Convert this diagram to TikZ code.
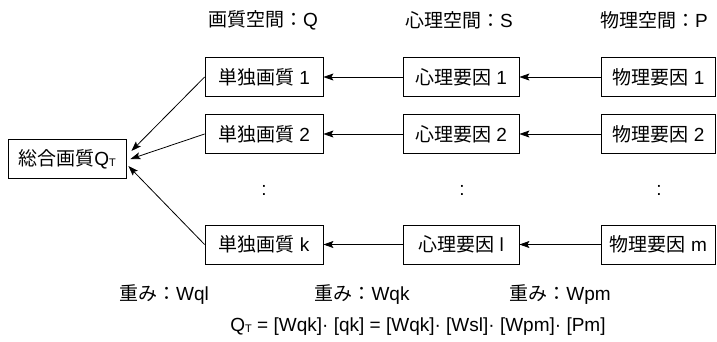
\documentclass[tikz,border=0pt]{standalone}
\usepackage{fontspec}
\setmainfont{Liberation Sans}
\newfontfamily\jp{Noto Sans CJK JP}
\usetikzlibrary{arrows.meta,calc}
\newcommand{\subT}{\raisebox{-0.1ex}{\fontsize{11}{12}\selectfont T}}
\begin{document}
\begin{tikzpicture}[x=1pt,y=-1pt,
  every node/.style={font=\fontsize{19}{21}\selectfont, inner sep=0pt},
  box/.style={draw, line width=0.8pt, minimum height=39pt},
  qbox/.style={box, minimum width=118pt},
  sbox/.style={box, minimum width=116pt},
  pbox/.style={box, minimum width=114pt},
  arr/.style={line width=0.8pt, -{Stealth[length=10pt,width=7pt,inset=2pt]}},
  lbl/.style={anchor=center}]
\useasboundingbox (0,0) rectangle (717,341);
% headers
\node[lbl] (hq) at (263,20) {{\jp 画質空間：}Q};
\node[lbl] (hs) at (459,20) {{\jp 心理空間：}S};
\node[lbl] (hp) at (654,20) {{\jp 物理空間：}P};
% total
\node[qbox] (qt) at (67,159) {{\jp 総合画質}Q\subT};
% Q column
\node[qbox] (q1) at (264,77) {{\jp 単独画質} 1};
\node[qbox] (q2) at (264,134) {{\jp 単独画質} 2};
\node[qbox] (qk) at (264,244.5) {{\jp 単独画質} k};
% S column
\node[sbox] (s1) at (461,77) {{\jp 心理要因} 1};
\node[sbox] (s2) at (461,134) {{\jp 心理要因} 2};
\node[sbox] (sl) at (461,244.5) {{\jp 心理要因} l};
% P column
\node[pbox] (p1) at (658.5,77) {{\jp 物理要因} 1};
\node[pbox] (p2) at (658.5,134) {{\jp 物理要因} 2};
\node[pbox] (pm) at (658.5,244.5) {{\jp 物理要因} m};
% dots
\node[lbl] (dq) at (264,190) {:};
\node[lbl] (ds) at (462,190) {:};
\node[lbl] (dp) at (659,190) {:};
% arrows
\draw[arr] (s1.west) -- (q1.east);
\draw[arr] (s2.west) -- (q2.east);
\draw[arr] (sl.west) -- (qk.east);
\draw[arr] (p1.west) -- (s1.east);
\draw[arr] (p2.west) -- (s2.east);
\draw[arr] (pm.west) -- (sl.east);
\draw[arr] (q1.west) -- ($(qt.east)+(5,-8)$);
\draw[arr] (q2.west) -- ($(qt.east)+(4,0)$);
\draw[arr] (qk.west) -- ($(qt.east)+(2,7)$);
% weights
\node[lbl] (w1) at (164,295) {{\jp 重み：}Wql};
\node[lbl] (w2) at (362,295) {{\jp 重み：}Wqk};
\node[lbl] (w3) at (560,295) {{\jp 重み：}Wpm};
% formula
\node[lbl] (f) at (418,327) {Q\subT{} = [Wqk]· [qk] = [Wqk]· [Wsl]· [Wpm]· [Pm]};
\end{tikzpicture}
\end{document}
